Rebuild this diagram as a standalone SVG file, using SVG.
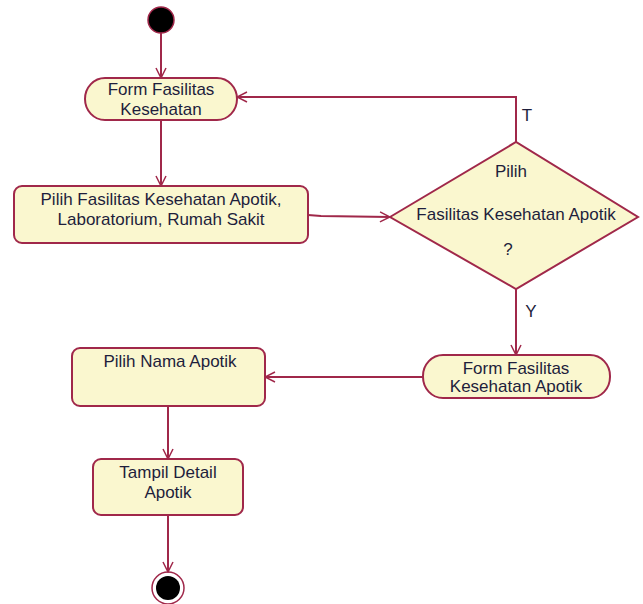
<svg xmlns="http://www.w3.org/2000/svg" width="643" height="604" viewBox="0 0 643 604">
<defs>
<marker id="arr" viewBox="0 0 12 12" refX="11" refY="6" markerWidth="12" markerHeight="12" markerUnits="userSpaceOnUse" orient="auto">
<path d="M1,1 L11,6 L1,11" fill="none" stroke="#A0284A" stroke-width="1.5"/>
</marker>
<style>
.n{fill:#FAF7CF;stroke:#A0284A;stroke-width:2}
.t{font-family:"Liberation Sans",Arial,sans-serif;font-size:17px;fill:#1E1E3C;text-anchor:middle}
.c{fill:none;stroke:#A0284A;stroke-width:2}
</style>
</defs>
<rect width="643" height="604" fill="#ffffff"/>
<g id="start"><circle cx="161" cy="20" r="13" fill="#000" stroke="#A0284A" stroke-width="1.5"/></g>
<g id="form1">
<rect class="n" x="85" y="78" width="152" height="42" rx="20" ry="21"/>
<text class="t" x="161" y="95">Form Fasilitas</text>
<text class="t" x="161" y="115">Kesehatan</text>
</g>
<g id="pilih1">
<rect class="n" x="14" y="186" width="294" height="57" rx="8"/>
<text class="t" x="161" y="205">Pilih Fasilitas Kesehatan Apotik,</text>
<text class="t" x="161" y="225">Laboratorium, Rumah Sakit</text>
</g>
<g id="decision">
<polygon class="n" points="390,217 516,142 638,217 516,289"/>
<text class="t" x="511" y="177">Pilih</text>
<text class="t" x="516" y="220">Fasilitas Kesehatan Apotik</text>
<text class="t" x="508" y="255">?</text>
</g>
<g id="form2">
<rect class="n" x="423" y="355" width="187" height="43" rx="20" ry="21"/>
<text class="t" x="516" y="374">Form Fasilitas</text>
<text class="t" x="516" y="392">Kesehatan Apotik</text>
</g>
<g id="pilih2">
<rect class="n" x="72" y="348" width="193" height="58" rx="8"/>
<text class="t" x="170" y="367">Pilih Nama Apotik</text>
</g>
<g id="tampil">
<rect class="n" x="93" y="459" width="150" height="56" rx="8"/>
<text class="t" x="168" y="478">Tampil Detail</text>
<text class="t" x="168" y="498">Apotik</text>
</g>
<g id="end">
<circle cx="168" cy="588" r="16" fill="#fff" stroke="#A0284A" stroke-width="1.5"/>
<circle cx="168" cy="588" r="12" fill="#000"/>
</g>
<g id="connectors">
<line class="c" x1="161" y1="33" x2="161" y2="78" marker-end="url(#arr)"/>
<line class="c" x1="161" y1="120" x2="161" y2="186" marker-end="url(#arr)"/>
<polyline class="c" points="308,215 321,216 390,217" marker-end="url(#arr)"/>
<polyline class="c" points="516,142 516,97 237,97" marker-end="url(#arr)"/>
<line class="c" x1="516" y1="289" x2="516" y2="355" marker-end="url(#arr)"/>
<line class="c" x1="423" y1="377" x2="265" y2="377" marker-end="url(#arr)"/>
<line class="c" x1="168" y1="406" x2="168" y2="459" marker-end="url(#arr)"/>
<line class="c" x1="168" y1="515" x2="168" y2="572" marker-end="url(#arr)"/>
<text class="t" x="527" y="121">T</text>
<text class="t" x="531" y="317">Y</text>
</g>
</svg>
